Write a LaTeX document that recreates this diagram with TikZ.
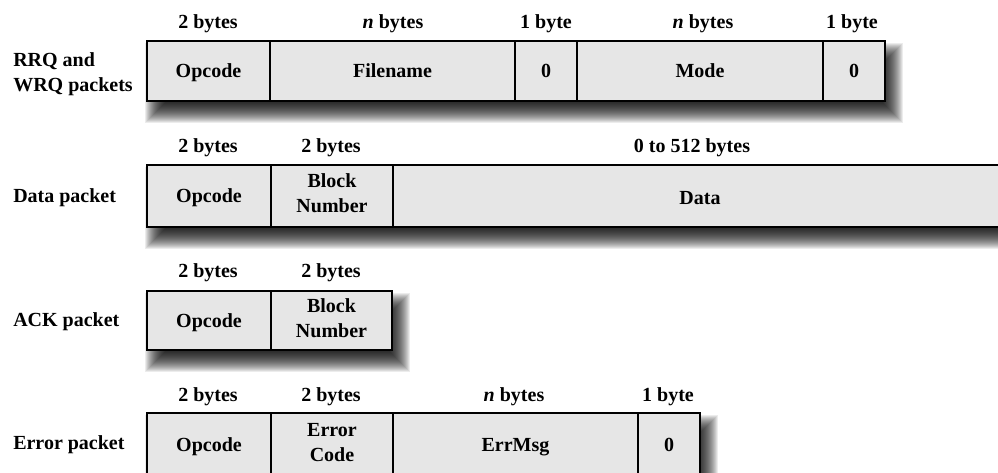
\documentclass[tikz,border=0pt]{standalone}
\usepackage{fontspec}
\setmainfont{Liberation Serif}
\definecolor{boxfill}{HTML}{E6E6E6}
\newcommand{\pshadow}[4]{%
  \foreach \r in {-10,-9,...,10}{%
    \fill[black,opacity=0.075] ({#1+8-\r},{#2+12-\r}) rectangle ({#3+8+\r},{#4+12+\r});
  }}
\newcommand{\fld}[6]{%
  \node[field, minimum width={(#3-#2)*0.75pt}, minimum height={(#5-#4)*0.75pt}] (#1) at ({(#2+#3)/2},{(#4+#5)/2}) {#6};}
\tikzset{
  field/.style={draw=black, line width=2.2pt, fill=boxfill, inner sep=0pt, outer sep=0pt, align=center,
    font=\fontsize{15}{18.75}\selectfont\bfseries,
    execute at begin node=\rule{0pt}{14pt}, execute at end node=\rule[-4pt]{0pt}{4pt}},
  hdr/.style={font=\fontsize{15}{18.5}\selectfont\bfseries, inner sep=0pt},
  side/.style={font=\fontsize{15}{18.5}\selectfont\bfseries, inner sep=0pt, anchor=west, align=left}
}
\begin{document}
\begin{tikzpicture}[x=0.75pt,y=-0.75pt]
\clip (0,0) rectangle (998,473);
\fill[white] (0,0) rectangle (998,473);
% ---------- RRQ / WRQ ----------
\pshadow{147}{41}{885}{101}
\fld{a1}{147}{270}{41}{101}{Opcode}
\fld{a2}{270}{515}{41}{101}{Filename}
\fld{a3}{515}{577}{41}{101}{0}
\fld{a4}{577}{823}{41}{101}{Mode}
\fld{a5}{823}{885}{41}{101}{0}
\node[hdr] (ha1) at (208,24) {2 bytes};
\node[hdr] (ha2) at (393,24) {\textit{n} bytes};
\node[hdr] (ha3) at (546,24) {1 byte};
\node[hdr] (ha4) at (703,24) {\textit{n} bytes};
\node[hdr] (ha5) at (852,24) {1 byte};
\node[side] (la) at (13,74) {RRQ and\\WRQ packets};
% ---------- Data ----------
\pshadow{147}{165}{1005}{227}
\fld{b1}{147}{271}{165}{227}{Opcode}
\fld{b2}{271}{393}{165}{227}{Block\\Number}
\fld{b3}{393}{1005}{165}{227}{}
\node[hdr] (bd) at (700,198) {Data};
\node[hdr] (hb1) at (208,148) {2 bytes};
\node[hdr] (hb2) at (331,148) {2 bytes};
\node[hdr] (hb3) at (692,148) {0 to 512 bytes};
\node[side] (lb) at (13,198) {Data packet};
% ---------- ACK ----------
\pshadow{147}{291}{392}{350}
\fld{c1}{147}{271}{291}{350}{Opcode}
\fld{c2}{271}{392}{291}{350}{Block\\Number}
\node[hdr] (hc1) at (208,273) {2 bytes};
\node[hdr] (hc2) at (331,273) {2 bytes};
\node[side] (lc) at (13,322) {ACK packet};
% ---------- Error ----------
\pshadow{147}{413}{700}{477}
\fld{d1}{147}{271}{413}{477}{Opcode}
\fld{d2}{271}{393}{413}{477}{Error\\Code}
\fld{d3}{393}{638}{413}{477}{ErrMsg}
\fld{d4}{638}{700}{413}{477}{0}
\node[hdr] (hd1) at (208,397) {2 bytes};
\node[hdr] (hd2) at (331,397) {2 bytes};
\node[hdr] (hd3) at (514,397) {\textit{n} bytes};
\node[hdr] (hd4) at (668,397) {1 byte};
\node[side] (ld) at (13,445) {Error packet};
\end{tikzpicture}
\end{document}
